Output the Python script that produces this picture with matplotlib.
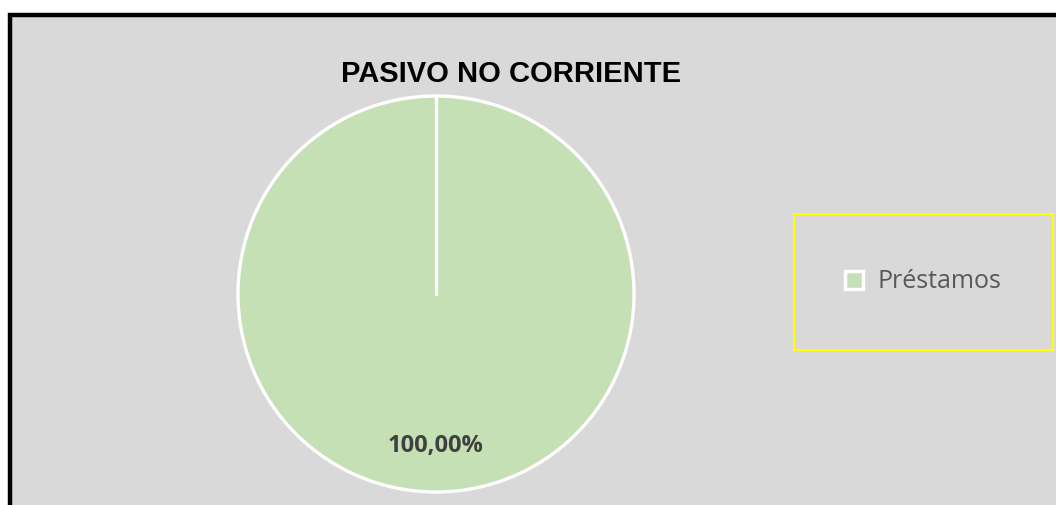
import matplotlib
matplotlib.use("Agg")
import matplotlib.pyplot as plt
from matplotlib.patches import Rectangle

# data
labels = ["Préstamos"]
values = [100.0]
pct_labels = ["100,00%"]
title = "PASIVO NO CORRIENTE"

green = "#c5e0b4"

fig = plt.figure(figsize=(10.56, 5.05), dpi=100)
fig.patch.set_facecolor("white")

# grey chart area with thick black border (right/bottom cut off)
bg = Rectangle((10 / 1056, -0.2), 1.2, 1 - 15 / 505 + 0.2,
               transform=fig.transFigure, facecolor="#d9d9d9",
               edgecolor="black", linewidth=3.2, zorder=-1)
fig.patches.append(bg)

ax = fig.add_axes([238 / 1056, 13 / 505, 396 / 1056, 396 / 505])
ax.set_facecolor("none")
ax.set_zorder(1)

wedges, texts, autotexts = ax.pie(
    values, colors=[green], startangle=90, counterclock=False,
    radius=1, autopct="%1.2f%%", pctdistance=0.77,
    wedgeprops=dict(edgecolor="white", linewidth=2.4))
for t in autotexts:
    t.set_text(pct_labels[0])
    t.set_fontsize(17)
    t.set_fontweight("bold")
    t.set_color("#404040")
    t.set_family("Open Sans")

# boundary line of the single slice (starts at 12 o'clock)
ax.plot([0, 0], [0, 1], color="white", linewidth=2.4)

ax.set_xlim(-1.0, 1.0)
ax.set_ylim(-1.0, 1.0)
ax.set_aspect("equal")
ax.axis("off")

fig.text(511 / 1056, 1 - 74 / 505, title, ha="center", va="center",
         fontsize=21, fontweight="bold", family="Liberation Sans",
         color="black")

# legend box
lx0, ly0, lw, lh = 794 / 1056, 1 - 350 / 505, 259 / 1056, 136 / 505
fig.patches.append(Rectangle((lx0, ly0), lw, lh, transform=fig.transFigure,
                             facecolor="none", edgecolor="#ffff00",
                             linewidth=1.5, zorder=5))
leg = fig.legend(wedges, labels, loc="center",
                 bbox_to_anchor=(lx0 + lw / 2, ly0 + lh / 2),
                 frameon=False, prop={"family": "Open Sans", "size": 18},
                 handlelength=0.7, handleheight=0.7, handletextpad=0.6)
for t in leg.get_texts():
    t.set_color("#595959")
for h in leg.legend_handles:
    h.set_edgecolor("white")
    h.set_linewidth(2.5)

fig.savefig("out.png", dpi=100)
